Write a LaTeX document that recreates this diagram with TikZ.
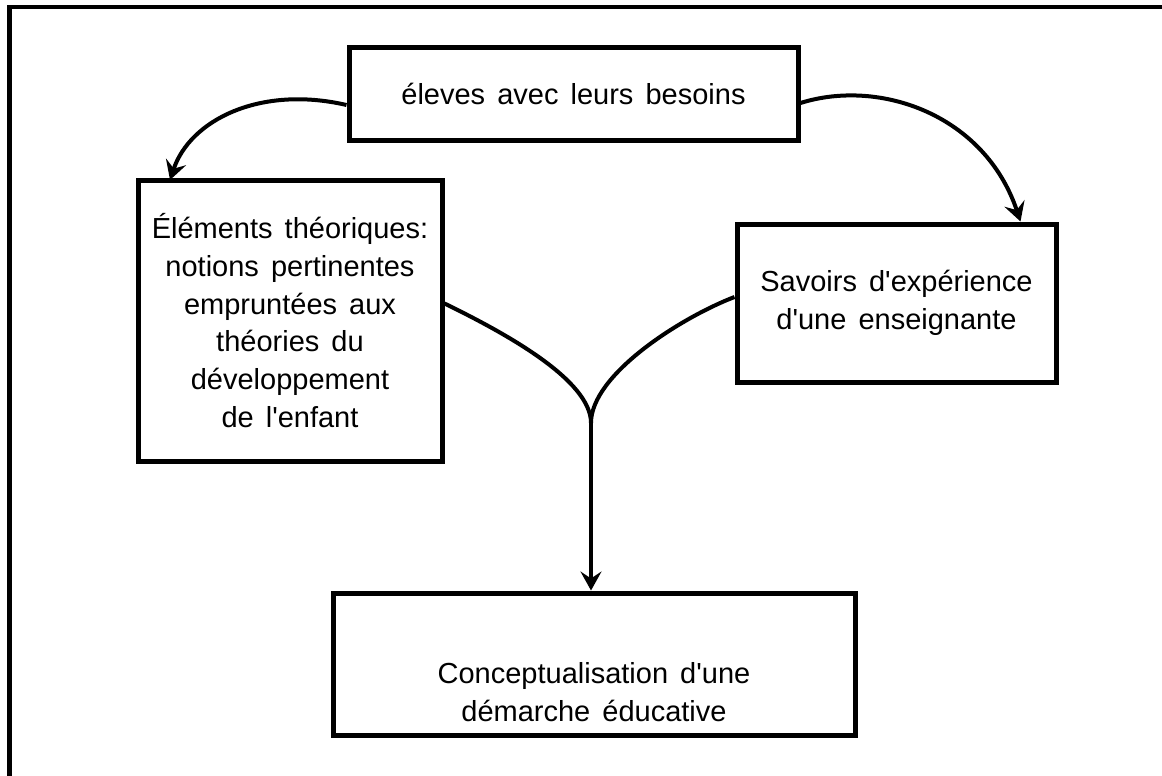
\documentclass[tikz,border=0pt]{standalone}
\usepackage{fontspec}
\setmainfont{Liberation Sans}[WordSpace=1.5, Ligatures=TeXOff]
\usetikzlibrary{arrows.meta,calc}

\begin{document}
\begin{tikzpicture}[x=1pt,y=-1pt,
  label text/.style={font=\fontsize{29}{37.8}\selectfont, align=center, inner sep=0pt},
  box/.style={draw, line width=5pt, rectangle, label text},
  link/.style={line width=4pt},
  tip/.style={-{Stealth[length=19pt,width=21pt,inset=7pt]}}]
\useasboundingbox (0,0) rectangle (1162,776);

% outer frame
\draw[line width=4.5pt] (9.5,7) rectangle (1164,778);

% boxes
\node[box, minimum width=449pt, minimum height=92pt] (eleves) at (573.5,94)
  {éleves avec leurs besoins};
\node[box, minimum width=304pt, minimum height=281pt] (theorie) at (290,320.5)
  {Éléments théoriques:\\ notions pertinentes\\ empruntées aux\\ théories du\\ développement\\ de l'enfant};
\node[box, minimum width=319pt, minimum height=158pt] (savoirs) at (896.5,303)
  {Savoirs d'expérience\\ d'une enseignante};
\node[box, minimum width=522pt, minimum height=142pt] (concept) at (594,664) {};
\node[label text] (concepttext) at (594,692) {Conceptualisation d'une\\ démarche éducative};

% connector end points
\coordinate (eleftout) at ($(eleves.west)+(0,11)$);
\coordinate (erightout) at ($(eleves.east)+(0,9)$);
\coordinate (theoin) at (170,180);
\coordinate (savin) at ($(savoirs.north east)+(-38,0)$);
\coordinate (theoout) at ($(theorie.east)+(0,-17)$);
\coordinate (savout) at ($(savoirs.west)+(0,-6)$);
\coordinate (join) at (591,423);

% arrows from the top box
\draw[link, tip] (eleftout) .. controls (260,85) and (190,120) .. (theoin);
\draw[link, tip] (erightout) .. controls (880,78) and (985,115) .. (savin);

% merging branches
\draw[link] (theoout) .. controls (505,333) and (591,380) .. (join);
\draw[link] (savout) .. controls (680,318) and (591,375) .. (join);
\draw[link, tip] (join) -- (join |- concept.north);
\end{tikzpicture}
\end{document}
